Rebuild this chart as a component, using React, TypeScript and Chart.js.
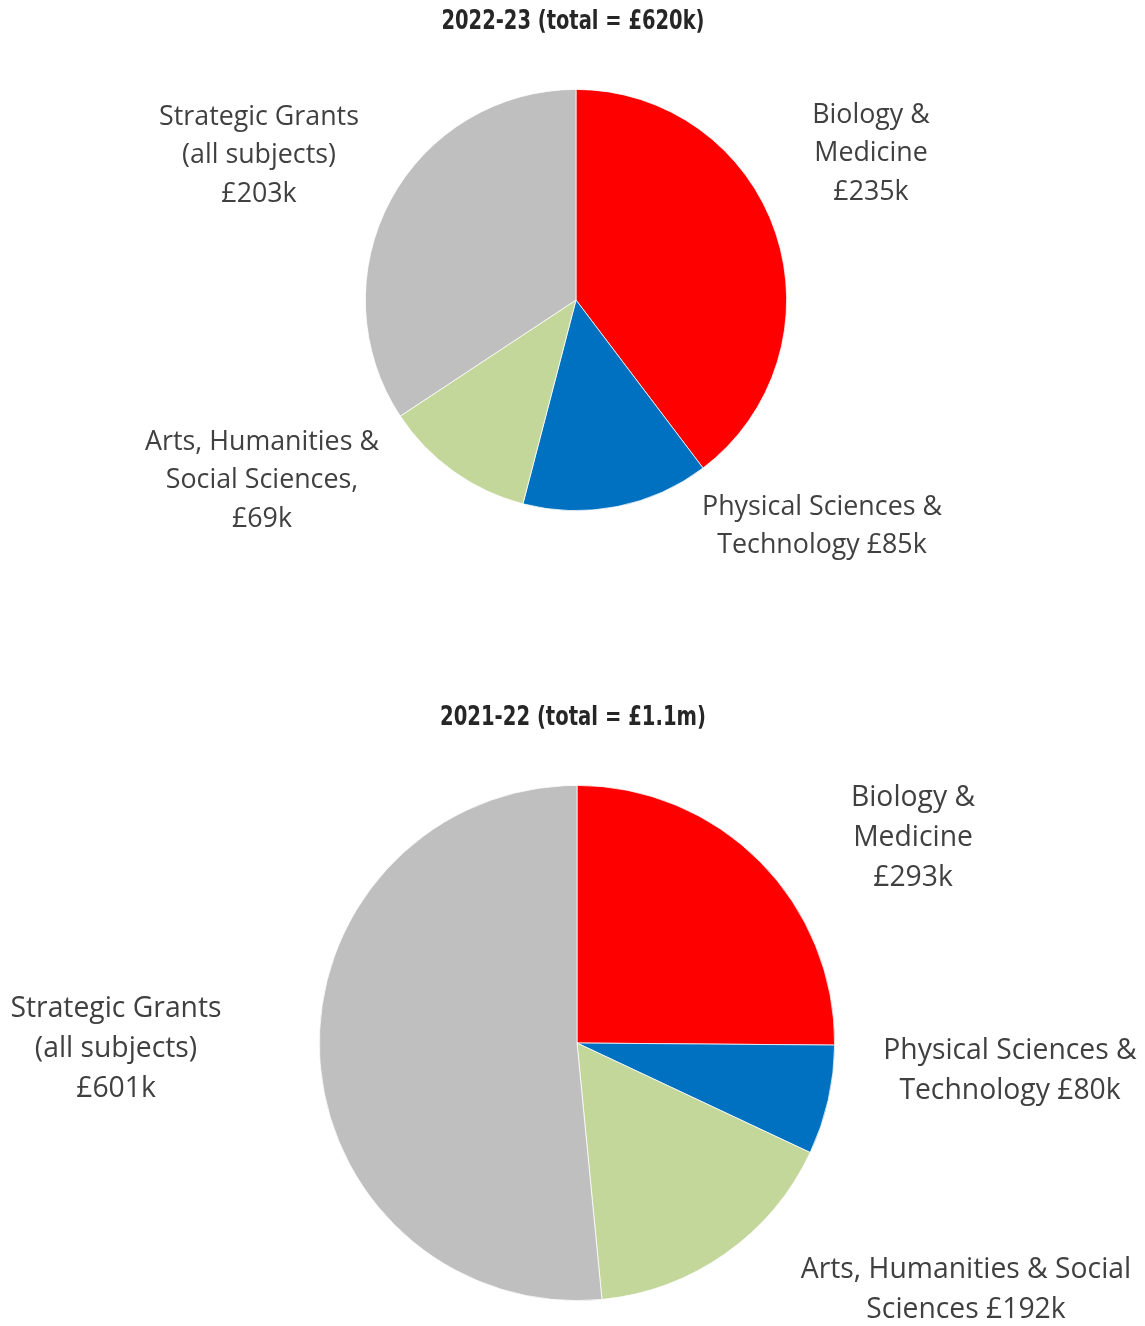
import React, { useEffect, useRef } from "react";
import { Chart, registerables } from "chart.js";

Chart.register(...registerables);

// ---- data ----
const categories = [
  "Biology & Medicine",
  "Physical Sciences & Technology",
  "Arts, Humanities & Social Sciences",
  "Strategic Grants (all subjects)",
];
const values2022 = [235, 85, 69, 203];
const values2021 = [293, 80, 192, 601];
const title2022 = "2022-23 (total = £620k)";
const title2021 = "2021-22 (total = £1.1m)";
const labels2022 = [
  ["Biology &", "Medicine", "£235k"],
  ["Physical Sciences &", "Technology £85k"],
  ["Arts, Humanities &", "Social Sciences,", "£69k"],
  ["Strategic Grants", "(all subjects)", "£203k"],
];
const labels2021 = [
  ["Biology &", "Medicine", "£293k"],
  ["Physical Sciences &", "Technology £80k"],
  ["Arts, Humanities & Social", "Sciences £192k"],
  ["Strategic Grants", "(all subjects)", "£601k"],
];
const colors = ["#FF0000", "#0070C0", "#C4D79B", "#BFBFBF"];

// ---- layout (positions of label blocks: center x, first line center y) ----
const labelPos2022 = [
  [871, 115],
  [822, 507],
  [262, 442],
  [259, 117],
];
const labelPos2021 = [
  [913, 798],
  [1010, 1051],
  [966, 1270],
  [116, 1009],
];

const TITLE_FONT = "bold 26.5px 'DejaVu Sans', sans-serif";

type PieSpec = {
  top: number;
  height: number;
  cx: number;
  cy: number;
  r: number;
  values: number[];
  labels: string[][];
  pos: number[][];
  title: string;
  titleY: number;
  titleWidth: number;
  fontSize: number;
  lineH: number;
};

function PieChart({ spec }: { spec: PieSpec }) {
  const ref = useRef<HTMLCanvasElement | null>(null);
  useEffect(() => {
    if (!ref.current) return;
    const W = 1145;
    const textPlugin = {
      id: "texts",
      afterDraw(chart: any) {
        const ctx = chart.ctx;
        ctx.save();
        ctx.fillStyle = "#262626";
        ctx.font = TITLE_FONT;
        ctx.textAlign = "center";
        ctx.textBaseline = "middle";
        const tw = ctx.measureText(spec.title).width;
        const sx = spec.titleWidth / tw;
        ctx.save();
        ctx.translate(573, spec.titleY - spec.top);
        ctx.scale(sx, 1);
        ctx.fillText(spec.title, 0, 0);
        ctx.restore();
        ctx.fillStyle = "#404040";
        ctx.font = `${spec.fontSize}px 'Open Sans', 'Noto Sans', sans-serif`;
        spec.labels.forEach((lines, i) => {
          const [x, y] = spec.pos[i];
          lines.forEach((ln, j) => {
            ctx.fillText(ln, x, y - spec.top + j * spec.lineH);
          });
        });
        ctx.restore();
      },
    };
    const chart = new Chart(ref.current, {
      type: "pie",
      data: {
        labels: categories,
        datasets: [
          {
            data: spec.values,
            backgroundColor: colors,
            borderColor: "#ffffff",
            borderWidth: 0.75,
          },
        ],
      },
      options: {
        responsive: false,
        animation: false,
        layout: {
          padding: {
            top: spec.cy - spec.r - spec.top,
            bottom: spec.top + spec.height - (spec.cy + spec.r),
            left: spec.cx - spec.r,
            right: W - (spec.cx + spec.r),
          },
        },
        plugins: {
          legend: { display: false },
          tooltip: { enabled: false },
          title: { display: false },
        },
      },
      plugins: [textPlugin],
    });
    return () => chart.destroy();
  }, [spec]);
  return (
    <canvas
      ref={ref}
      width={1145}
      height={spec.height}
      style={{ position: "absolute", left: 0, top: spec.top, width: 1145, height: spec.height }}
    />
  );
}

const spec1: PieSpec = {
  top: 0,
  height: 660,
  cx: 576,
  cy: 300,
  r: 211,
  values: values2022,
  labels: labels2022,
  pos: labelPos2022,
  title: title2022,
  titleY: 22,
  titleWidth: 263,
  fontSize: 26.8,
  lineH: 38.5,
};
const spec2: PieSpec = {
  top: 660,
  height: 666,
  cx: 577,
  cy: 1043,
  r: 258,
  values: values2021,
  labels: labels2021,
  pos: labelPos2021,
  title: title2021,
  titleY: 718,
  titleWidth: 266,
  fontSize: 28.3,
  lineH: 40,
};

export default function App() {
  return (
    <div style={{ position: "fixed", left: 0, top: 0, width: 1145, height: 1326, background: "#fff" }}>
      <PieChart spec={spec1} />
      <PieChart spec={spec2} />
    </div>
  );
}
